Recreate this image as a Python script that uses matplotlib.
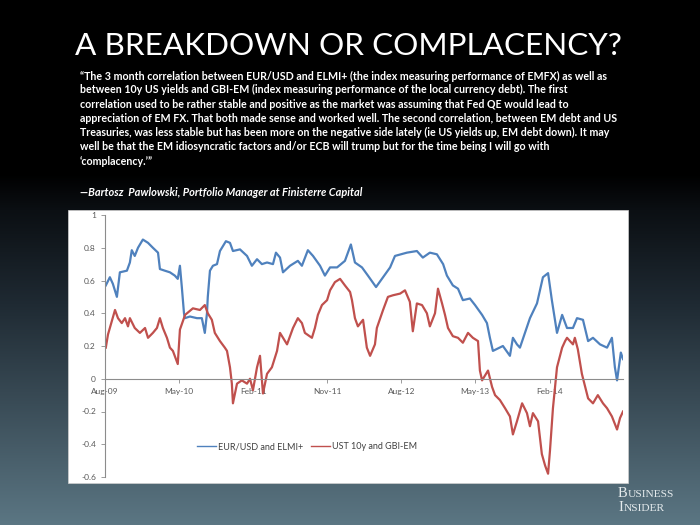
import numpy as np
import pandas as pd
import matplotlib
matplotlib.use("Agg")
import matplotlib.pyplot as plt
import matplotlib.dates as mdates
from matplotlib.patches import Rectangle
from matplotlib.colors import LinearSegmentedColormap

# ---------------- data ----------------
title = "A BREAKDOWN OR COMPLACENCY?"
quote_lines = [
    "\u201cThe 3 month correlation between EUR/USD and ELMI+ (the index measuring performance of EMFX) as well as",
    "between 10y US yields and GBI-EM (index measuring performance of the local currency debt). The first",
    "correlation used to be rather stable and positive as the market was assuming that Fed QE would lead to",
    "appreciation of EM FX. That both made sense and worked well. The second correlation, between EM debt and US",
    "Treasuries, was less stable but has been more on the negative side lately (ie US yields up, EM debt down). It may",
    "well be that the EM idiosyncratic factors and/or ECB will trump but for the time being I will go with",
    "\u2018complacency.\u2019\u201d",
]
attribution = "\u2014Bartosz  Pawlowski, Portfolio Manager at Finisterre Capital"
logo_words = ["BUSINESS", "INSIDER"]

series_names = ["EUR/USD and ELMI+", "UST 10y and GBI-EM"]

blue_dates = [
    "2009-08-04", "2009-08-19", "2009-08-30", "2009-09-14", "2009-09-25", "2009-10-21", "2009-11-01",
    "2009-11-08", "2009-11-19", "2009-12-01", "2009-12-19", "2010-01-07", "2010-01-25", "2010-02-13",
    "2010-02-20", "2010-03-10", "2010-03-29", "2010-04-16", "2010-04-27", "2010-05-05", "2010-05-12",
    "2010-05-20", "2010-05-23", "2010-06-11", "2010-07-07", "2010-07-25", "2010-08-05", "2010-08-13",
    "2010-08-16", "2010-08-24", "2010-09-04", "2010-09-19", "2010-09-30", "2010-10-22", "2010-11-06",
    "2010-11-17", "2010-12-13", "2011-01-08", "2011-01-26", "2011-02-14", "2011-03-04", "2011-03-23",
    "2011-04-14", "2011-04-25", "2011-05-10", "2011-05-21", "2011-06-16", "2011-07-15", "2011-07-30",
    "2011-08-21", "2011-09-09", "2011-10-05", "2011-10-23", "2011-11-11", "2011-12-07", "2012-01-05",
    "2012-01-27", "2012-02-11", "2012-03-08", "2012-03-30", "2012-04-29", "2012-05-25", "2012-06-20",
    "2012-07-08", "2012-08-21", "2012-09-27", "2012-10-19", "2012-11-14", "2012-12-10", "2013-01-02",
    "2013-01-16", "2013-02-07", "2013-02-26", "2013-03-16", "2013-04-11", "2013-04-30", "2013-05-26",
    "2013-06-13", "2013-06-24", "2013-07-05", "2013-08-11", "2013-09-06", "2013-09-17", "2013-10-02",
    "2013-10-13", "2013-11-19", "2013-12-15", "2014-01-06", "2014-01-25", "2014-02-08", "2014-02-27",
    "2014-03-18", "2014-04-05", "2014-04-27", "2014-05-12", "2014-06-03", "2014-06-22", "2014-07-10",
    "2014-08-05", "2014-08-31", "2014-09-18", "2014-09-29", "2014-10-07", "2014-10-21", "2014-10-29",
]
blue_vals = [
    0.57, 0.62, 0.58, 0.50, 0.65, 0.66, 0.71,
    0.785, 0.75, 0.80, 0.85, 0.83, 0.80, 0.77,
    0.67, 0.66, 0.65, 0.63, 0.61, 0.69, 0.56,
    0.40, 0.37, 0.38, 0.37, 0.37, 0.28, 0.40,
    0.50, 0.66, 0.69, 0.70, 0.78, 0.84, 0.83,
    0.78, 0.79, 0.75, 0.69, 0.73, 0.70, 0.71,
    0.70, 0.77, 0.74, 0.65, 0.69, 0.72, 0.69,
    0.785, 0.75, 0.69, 0.63, 0.68, 0.68, 0.72,
    0.82, 0.71, 0.68, 0.63, 0.56, 0.62, 0.68,
    0.75, 0.77, 0.78, 0.74, 0.77, 0.76, 0.70,
    0.63, 0.57, 0.55, 0.48, 0.49, 0.45, 0.39,
    0.34, 0.25, 0.17, 0.20, 0.14, 0.25, 0.21,
    0.19, 0.37, 0.46, 0.62, 0.645, 0.48, 0.28,
    0.39, 0.31, 0.31, 0.37, 0.36, 0.23, 0.25,
    0.21, 0.19, 0.25, 0.07, -0.01, 0.16, 0.12,
]

red_dates = [
    "2009-08-04", "2009-08-12", "2009-09-07", "2009-09-18", "2009-10-02", "2009-10-14", "2009-10-25",
    "2009-11-01", "2009-11-19", "2009-12-08", "2009-12-27", "2010-01-07", "2010-01-25", "2010-02-09",
    "2010-02-20", "2010-03-03", "2010-03-18", "2010-03-29", "2010-04-09", "2010-04-27", "2010-05-05",
    "2010-05-24", "2010-06-22", "2010-07-18", "2010-08-05", "2010-08-16", "2010-08-31", "2010-09-11",
    "2010-09-30", "2010-10-18", "2010-10-26", "2010-11-06", "2010-11-13", "2010-11-17", "2010-12-02",
    "2010-12-20", "2011-01-08", "2011-01-19", "2011-01-30", "2011-02-14", "2011-02-25", "2011-03-08",
    "2011-03-23", "2011-04-10", "2011-04-29", "2011-05-10", "2011-06-05", "2011-06-27", "2011-07-15",
    "2011-07-30", "2011-08-10", "2011-09-05", "2011-09-16", "2011-09-27", "2011-10-12", "2011-10-31",
    "2011-11-11", "2011-11-29", "2011-12-18", "2012-01-05", "2012-01-24", "2012-01-31", "2012-02-11",
    "2012-02-22", "2012-03-12", "2012-03-26", "2012-04-07", "2012-04-25", "2012-05-02", "2012-05-25",
    "2012-06-12", "2012-07-01", "2012-07-27", "2012-08-14", "2012-09-01", "2012-09-12", "2012-09-27",
    "2012-10-16", "2012-11-03", "2012-11-14", "2012-12-03", "2012-12-14", "2012-12-29", "2013-01-09",
    "2013-01-20", "2013-02-07", "2013-02-26", "2013-03-16", "2013-04-04", "2013-04-22", "2013-05-11",
    "2013-05-18", "2013-05-26", "2013-06-06", "2013-06-17", "2013-07-02", "2013-07-13", "2013-07-31",
    "2013-08-19", "2013-09-06", "2013-09-17", "2013-10-02", "2013-10-21", "2013-11-08", "2013-11-19",
    "2013-11-30", "2013-12-19", "2014-01-02", "2014-01-14", "2014-01-25", "2014-02-01", "2014-02-12",
    "2014-02-27", "2014-03-18", "2014-03-29", "2014-04-05", "2014-04-27", "2014-05-04", "2014-05-15",
    "2014-05-30", "2014-06-22", "2014-07-10", "2014-07-28", "2014-08-16", "2014-08-31", "2014-09-18",
    "2014-10-07", "2014-10-18", "2014-10-29",
]
red_vals = [
    0.19, 0.27, 0.42, 0.37, 0.34, 0.37, 0.32,
    0.37, 0.31, 0.28, 0.31, 0.25, 0.28, 0.31,
    0.37, 0.31, 0.25, 0.19, 0.17, 0.09, 0.30,
    0.39, 0.43, 0.42, 0.45, 0.40, 0.36, 0.28,
    0.23, 0.19, 0.17, 0.07, -0.03, -0.15, -0.03,
    -0.01, -0.03, 0.00, -0.07, 0.07, 0.14, -0.09,
    0.03, 0.07, 0.17, 0.28, 0.21, 0.31, 0.37,
    0.34, 0.28, 0.25, 0.31, 0.39, 0.45, 0.48,
    0.54, 0.59, 0.61, 0.57, 0.53, 0.48, 0.37,
    0.32, 0.36, 0.19, 0.14, 0.21, 0.31, 0.42,
    0.50, 0.51, 0.52, 0.54, 0.47, 0.29, 0.46,
    0.45, 0.40, 0.32, 0.40, 0.55, 0.46, 0.39,
    0.31, 0.26, 0.25, 0.22, 0.28, 0.25, 0.23,
    0.05, -0.01, 0.02, 0.05, -0.05, -0.10, -0.13,
    -0.18, -0.23, -0.34, -0.26, -0.15, -0.21, -0.29,
    -0.21, -0.26, -0.46, -0.53, -0.58, -0.44, -0.18,
    0.07, 0.19, 0.23, 0.25, 0.21, 0.25, 0.18,
    0.03, -0.12, -0.15, -0.10, -0.15, -0.18, -0.23,
    -0.31, -0.24, -0.20,
]

y_ticks = [1, 0.8, 0.6, 0.4, 0.2, 0, -0.2, -0.4, -0.6]
x_tick_dates = ["2009-08-01", "2010-05-01", "2011-02-01", "2011-11-01",
                "2012-08-01", "2013-05-01", "2014-02-01"]

# ---------------- figure ----------------
W, H = 700, 525
fig = plt.figure(figsize=(7, 5.25), dpi=100)

def fx(px):
    return px / W

def fy(py):
    return 1 - py / H

# background gradient
bg = fig.add_axes([0, 0, 1, 1], zorder=-10)
bg.axis("off")
cmap = LinearSegmentedColormap.from_list(
    "bg", [(0.0, "#000000"), (0.33, "#000000"), (0.40, "#0b0f13"),
           (0.58, "#1f2a33"), (0.77, "#3a4c57"), (1.0, "#5b7683")])
grad = np.linspace(0, 1, 256).reshape(-1, 1)
bg.imshow(grad, aspect="auto", cmap=cmap, extent=[0, 1, 0, 1], origin="upper")
bg.set_xlim(0, 1)
bg.set_ylim(0, 1)

# white chart box
fig.add_artist(Rectangle((fx(68), fy(483)), fx(628) - fx(68), fy(210) - fy(483),
                         transform=fig.transFigure, facecolor="white",
                         edgecolor="#d0d0d0", linewidth=0.5, zorder=0))

# text
tfont = "Lato"
t_title = fig.text(fx(348), fy(46), title, color="white", fontsize=26,
                   family=tfont, ha="center", va="center")
q_texts = []
q_y = [76, 89.5, 104, 118, 132.5, 147, 161.5]
for line, yy in zip(quote_lines, q_y):
    q_texts.append(fig.text(fx(80), fy(yy), line, color="white", fontsize=9,
                            family=tfont, weight="bold", ha="left", va="center"))
t_attr = fig.text(fx(80), fy(193), attribution, color="white", fontsize=9,
                  family=tfont, weight="bold", style="italic", ha="left", va="center")

# fit font sizes to reference widths
fig.canvas.draw()
r = fig.canvas.get_renderer()
def fit(t, width_px):
    w = t.get_window_extent(renderer=r).width
    t.set_fontsize(t.get_fontsize() * width_px / w)
fit(t_title, 546)
w1 = q_texts[0].get_window_extent(renderer=r).width
for t in q_texts:
    t.set_fontsize(t.get_fontsize() * 529 / w1)
fit(t_attr, 283)

# Business Insider logo, small caps
logo_c = "#e4eaec"
for word, yy in zip(logo_words, [497, 511]):
    big = fig.text(fx(618), fy(yy), word[0], color=logo_c, fontsize=10.5,
                   family="Liberation Serif", ha="left", va="baseline")
    fig.canvas.draw()
    bw = big.get_window_extent(renderer=r).width
    fig.text(fx(618) + bw / W + 0.0005, fy(yy), word[1:], color=logo_c, fontsize=8.2,
             family="Liberation Serif", ha="left", va="baseline")

# ---------------- chart ----------------
ax = fig.add_axes([fx(105), fy(477), fx(623) - fx(105), fy(215) - fy(477)], zorder=2)
ax.patch.set_alpha(0)

bd = pd.to_datetime(blue_dates)
rd = pd.to_datetime(red_dates)
blue_c = "#4f81bd"
red_c = "#c0504d"
ax.plot(bd, blue_vals, color=blue_c, lw=1.6, label=series_names[0], solid_joinstyle="round")
ax.plot(rd, red_vals, color=red_c, lw=1.6, label=series_names[1], solid_joinstyle="round")

ax.set_ylim(-0.6, 1.0)
ax.set_xlim(pd.Timestamp("2009-08-01"), pd.Timestamp(blue_dates[-1]))
ax.set_yticks(y_ticks)
ax.set_yticklabels([("%g" % v) for v in y_ticks])
xt = pd.to_datetime(x_tick_dates)
ax.set_xticks(xt)
ax.xaxis.set_major_formatter(mdates.DateFormatter("%b-%y"))

for s in ["top", "right"]:
    ax.spines[s].set_visible(False)
ax.spines["bottom"].set_position(("data", 0))
ax.spines["bottom"].set_color("#8c8c8c")
ax.spines["left"].set_color("#8c8c8c")
ax.spines["bottom"].set_linewidth(0.8)
ax.spines["left"].set_linewidth(0.8)
ax.tick_params(axis="both", colors="#8c8c8c", labelcolor="#595959",
               labelsize=6, length=3, width=0.6)
for lab in ax.get_xticklabels() + ax.get_yticklabels():
    lab.set_family(tfont)

leg = ax.legend(loc="center", bbox_to_anchor=(0.39, 0.115), ncol=2, frameon=False,
                handlelength=2.2, handletextpad=0.2, columnspacing=0.8,
                prop={"family": tfont, "size": 6.5})
for t in leg.get_texts():
    t.set_color("#404040")
for l in leg.get_lines():
    l.set_linewidth(1.0)

fig.savefig("out.png", dpi=100)
